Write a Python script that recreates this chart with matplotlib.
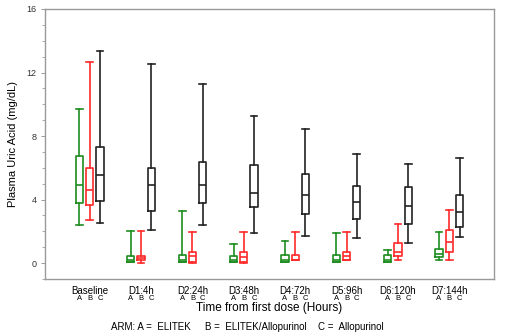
import matplotlib
matplotlib.use("Agg")
import matplotlib.pyplot as plt
from matplotlib.ticker import MultipleLocator
import numpy as np

plt.rcParams['font.family'] = ['Liberation Sans', 'DejaVu Sans']

groups = ['Baseline', 'D1:4h', 'D2:24h', 'D3:48h', 'D4:72h', 'D5:96h', 'D6:120h', 'D7:144h']
arms = ['A', 'B', 'C']

# per arm: whisker low, Q1, median, Q3, whisker high (mg/dL), one value per time point
a_lo  = [2.42, 0.10, 0.10, 0.10, 0.10, 0.10, 0.10, 0.19]
a_q1  = [3.80, 0.10, 0.10, 0.10, 0.10, 0.10, 0.10, 0.40]
a_med = [4.91, 0.20, 0.20, 0.20, 0.20, 0.20, 0.20, 0.55]
a_q3  = [6.77, 0.47, 0.48, 0.46, 0.48, 0.48, 0.50, 0.88]
a_hi  = [9.72, 2.00, 3.31, 1.20, 1.39, 1.87, 0.82, 1.98]

b_lo  = [2.72, 0.00, 0.00, 0.00, 0.17, 0.21, 0.19, 0.19]
b_q1  = [3.69, 0.20, 0.10, 0.10, 0.17, 0.21, 0.46, 0.70]
b_med = [4.62, 0.30, 0.42, 0.38, 0.20, 0.46, 0.67, 1.30]
b_q3  = [6.00, 0.46, 0.70, 0.70, 0.50, 0.70, 1.28, 2.09]
b_hi  = [12.65, 2.00, 1.98, 1.98, 1.98, 1.98, 2.49, 3.33]

c_lo  = [2.50, 2.06, 2.40, 1.90, 1.69, 1.60, 1.28, 1.62]
c_q1  = [3.90, 3.31, 3.80, 3.52, 3.10, 2.80, 2.49, 2.28]
c_med = [5.52, 4.91, 4.89, 4.41, 4.30, 3.86, 3.60, 3.23]
c_q3  = [7.34, 6.00, 6.37, 6.20, 5.61, 4.83, 4.81, 4.28]
c_hi  = [13.35, 12.55, 11.26, 9.24, 8.44, 6.85, 6.24, 6.62]

arm_data = [
    (a_lo, a_q1, a_med, a_q3, a_hi),
    (b_lo, b_q1, b_med, b_q3, b_hi),
    (c_lo, c_q1, c_med, c_q3, c_hi),
]
arm_colors = ['#1e8c1e', '#ff2a2a', '#222222']
offsets = [-0.2, 0.0, 0.2]

fig = plt.figure(figsize=(5.06, 3.34), dpi=100)
ax = fig.add_axes([45/506, 1 - 279/334, (494 - 45)/506, (279 - 9)/334])

for data, col, off in zip(arm_data, arm_colors, offsets):
    lo, q1, med, q3, hi = data
    stats = []
    for i in range(len(groups)):
        stats.append(dict(whislo=lo[i], q1=q1[i], med=med[i], q3=q3[i],
                          whishi=hi[i], fliers=[]))
    pos = np.arange(len(groups)) + off
    st = dict(color=col, linewidth=1.2)
    ax.bxp(stats, positions=pos, widths=0.14, capwidths=0.13, showfliers=False,
           boxprops=st, whiskerprops=st, capprops=st,
           medianprops=st, manage_ticks=False)

ax.set_xlim(-0.87, len(groups) - 1 + 0.87)
ax.set_ylim(-1, 16)
ax.set_yticks([0, 4, 8, 12, 16])
ax.yaxis.set_minor_locator(MultipleLocator(1))
ax.set_xticks([])
ax.tick_params(axis='y', which='major', labelsize=6.5, length=3, width=0.6,
               colors='#888888', labelcolor='#333333', pad=3)
ax.tick_params(axis='y', which='minor', length=2, width=0.5, colors='#888888')
for s in ax.spines.values():
    s.set_color('#999999')
    s.set_linewidth(1.0)

ax.set_ylabel('Plasma Uric Acid (mg/dL)', fontsize=8, labelpad=6)

# group and arm labels under the axis
trans = ax.get_xaxis_transform()
for i, g in enumerate(groups):
    ax.text(i, -0.043, g, transform=trans, ha='center', va='center', fontsize=7)
    for a, off in zip(arms, offsets):
        ax.text(i + off, -0.074, a, transform=trans, ha='center', va='center',
                fontsize=5.5)

fig.text(269/506, 1 - 308/334, 'Time from first dose (Hours)', ha='center',
         va='center', fontsize=8.5)
fig.text(111/506, 1 - 327/334, 'ARM: A =  ELITEK', ha='left', va='center', fontsize=7)
fig.text(205/506, 1 - 327/334, 'B =  ELITEK/Allopurinol', ha='left', va='center', fontsize=7)
fig.text(318/506, 1 - 327/334, 'C =  Allopurinol', ha='left', va='center', fontsize=7)

fig.savefig('out.png', dpi=100)
